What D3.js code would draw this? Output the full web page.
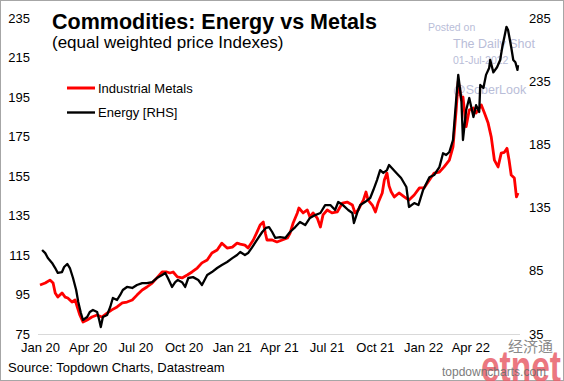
<!DOCTYPE html>
<html>
<head>
<meta charset="utf-8">
<script src="https://cdn.jsdelivr.net/npm/d3@7"></script>
<style>
  html, body { margin: 0; padding: 0; background: #fff; }
  svg { display: block; font-family: "Liberation Sans", Arial, sans-serif; }
</style>
</head>
<body>
<svg id="chart" width="564" height="381"></svg>
<script>
// ---- Data ----
const metalsDates = ["2020-01-01","2020-01-11","2020-01-20","2020-01-26","2020-01-30","2020-02-04","2020-02-12","2020-02-18","2020-02-23","2020-03-02","2020-03-08","2020-03-12","2020-03-17","2020-03-23","2020-03-31","2020-04-09","2020-04-19","2020-04-28","2020-05-08","2020-05-17","2020-05-27","2020-06-06","2020-06-15","2020-06-25","2020-07-04","2020-07-14","2020-07-23","2020-08-02","2020-08-11","2020-08-21","2020-08-30","2020-09-05","2020-09-11","2020-09-19","2020-09-28","2020-10-08","2020-10-17","2020-10-27","2020-11-05","2020-11-15","2020-11-24","2020-12-04","2020-12-13","2020-12-23","2021-01-02","2021-01-11","2021-01-17","2021-01-26","2021-02-01","2021-02-11","2021-02-18","2021-02-24","2021-03-02","2021-03-06","2021-03-09","2021-03-19","2021-03-28","2021-04-07","2021-04-17","2021-04-22","2021-04-28","2021-05-06","2021-05-09","2021-05-17","2021-05-25","2021-05-30","2021-06-05","2021-06-13","2021-06-19","2021-06-24","2021-07-02","2021-07-11","2021-07-21","2021-07-31","2021-08-09","2021-08-19","2021-08-24","2021-08-30","2021-09-09","2021-09-14","2021-09-18","2021-09-26","2021-10-02","2021-10-07","2021-10-15","2021-10-19","2021-10-24","2021-10-28","2021-11-01","2021-11-07","2021-11-16","2021-11-26","2021-12-05","2021-12-15","2021-12-25","2022-01-03","2022-01-13","2022-01-22","2022-02-01","2022-02-10","2022-02-20","2022-02-27","2022-03-05","2022-03-09","2022-03-15","2022-03-18","2022-03-24","2022-03-30","2022-04-07","2022-04-12","2022-04-22","2022-04-28","2022-05-05","2022-05-11","2022-05-17","2022-05-24","2022-05-30","2022-06-05","2022-06-10","2022-06-14","2022-06-18","2022-06-24","2022-06-28","2022-07-01"];
const metalsValues = [99.8,100.8,102.3,100.8,95.8,93.7,95.8,93.7,93.2,91.2,92.2,88.7,84.6,81.1,82.1,83.6,84.6,83.6,85.6,87.2,88.7,90.7,91.2,92.2,94.7,97.3,98.8,100.8,103.4,106.4,106.4,105.9,106.4,103.9,103.4,104.9,106.4,108.4,111,112.5,116,117.5,121,118.5,119,121,120.5,120,118.5,122.6,126.6,130.2,131.7,126,122.6,122.6,121.6,122.6,123.6,126,131.2,136.3,138.8,136.3,137.8,134.2,136.3,133.7,129.2,135.3,137.8,136.3,136.8,141.3,141.8,140.3,136.3,137.8,142.8,146.9,142.8,140.3,136.8,141.3,146.4,153,156.5,150,147,144.4,146.4,144.4,142.8,145.4,149,149,153,156.5,157,159.6,163,169.7,188.4,203,193.5,195,180,188.4,189.4,186.9,191,186.9,181.8,174.7,163,159.6,166.6,167,169,163,155.5,154,144.4,146.4];

const energyDates = ["2020-01-05","2020-01-11","2020-01-16","2020-01-24","2020-01-30","2020-02-04","2020-02-12","2020-02-16","2020-02-22","2020-02-27","2020-03-04","2020-03-10","2020-03-14","2020-03-19","2020-03-23","2020-03-31","2020-04-05","2020-04-11","2020-04-19","2020-04-23","2020-04-26","2020-04-30","2020-05-08","2020-05-14","2020-05-19","2020-05-27","2020-06-02","2020-06-07","2020-06-15","2020-06-25","2020-07-04","2020-07-14","2020-07-23","2020-08-02","2020-08-11","2020-08-21","2020-08-27","2020-09-01","2020-09-09","2020-09-15","2020-09-20","2020-09-28","2020-10-04","2020-10-10","2020-10-19","2020-10-29","2020-11-05","2020-11-15","2020-11-24","2020-12-04","2020-12-13","2020-12-23","2021-01-02","2021-01-11","2021-01-17","2021-01-26","2021-02-01","2021-02-09","2021-02-18","2021-02-28","2021-03-07","2021-03-13","2021-03-19","2021-03-25","2021-04-03","2021-04-13","2021-04-22","2021-05-02","2021-05-11","2021-05-21","2021-05-30","2021-06-09","2021-06-19","2021-06-28","2021-07-08","2021-07-17","2021-07-23","2021-08-01","2021-08-11","2021-08-19","2021-08-22","2021-08-28","2021-09-03","2021-09-12","2021-09-22","2021-09-28","2021-10-05","2021-10-11","2021-10-17","2021-10-24","2021-10-28","2021-11-11","2021-11-20","2021-11-30","2021-12-05","2021-12-15","2021-12-23","2022-01-01","2022-01-13","2022-01-22","2022-02-01","2022-02-08","2022-02-14","2022-02-20","2022-02-27","2022-03-05","2022-03-09","2022-03-15","2022-03-18","2022-03-24","2022-03-30","2022-04-07","2022-04-12","2022-04-18","2022-04-20","2022-04-26","2022-05-01","2022-05-07","2022-05-09","2022-05-15","2022-05-22","2022-05-28","2022-06-01","2022-06-05","2022-06-09","2022-06-12","2022-06-18","2022-06-22","2022-06-26","2022-06-30","2022-07-01"];
const energyValues = [101.5,99,95.1,91.2,87.2,83.3,84,88,90.4,87.2,79.3,69.8,60.3,51.6,46.1,48.4,52.4,54,52.4,46.1,40.5,48.4,50,56.4,63.5,61.9,65.9,69.8,72.2,71.4,73.8,75.3,75.3,76.1,79.3,81.7,83.3,79.3,72.2,76.1,77.7,76,72.2,79.3,80,77.7,73.8,81.7,84,87.2,89.6,92,95,97.5,99.9,97.5,99,103.8,109.4,115.7,118.9,119.6,115.7,111,111.7,111,115.7,119.6,123.6,121.2,126.8,129.1,130.7,137,137,133.1,139.4,137,133.1,130.7,122.8,130.7,137,139.4,142.6,148.9,156.8,164.7,162.4,164.7,168.7,162.4,158.4,151.3,135.5,138.6,137,149,159,160.8,167,178,176.6,179,188.5,220,240,220,188.5,212,221.7,206.7,216,210.6,232,229.6,240,245.5,251.8,242,246,251.8,262,270,278,275.5,262,251.8,250,244,247.8];

const xTickDates = ["2020-01-01","2020-04-01","2020-07-01","2020-10-01","2021-01-01","2021-04-01","2021-07-01","2021-10-01","2022-01-01","2022-04-01"];
const leftTicks = [75,95,115,135,155,175,195,215,235];
const rightTicks = [35,85,135,185,235,285];
const seriesNames = ["Industrial Metals","Energy [RHS]"];
const seriesColors = ["#ff0000","#000000"];

// ---- Drawing ----
const parse = d3.utcParse("%Y-%m-%d");
const svg = d3.select("#chart");
const font = "'Liberation Sans', Arial, sans-serif";

const x = d3.scaleUtc().domain([parse("2020-01-01"), parse("2022-07-01")]).range([40, 518]);
const yL = d3.scaleLinear().domain([75, 235]).range([334, 18]);
const yR = d3.scaleLinear().domain([35, 285]).range([334, 18]);

// frame
svg.append("rect").attr("x",0.5).attr("y",0.5).attr("width",563).attr("height",380)
  .attr("fill","#fff").attr("stroke","#a6a6a6").attr("stroke-width",1);

// baseline
svg.append("line").attr("x1",38).attr("x2",520).attr("y1",334.5).attr("y2",334.5)
  .attr("stroke","#d9d9d9").attr("stroke-width",1);

// watermark (Daily Shot)
const wm = svg.append("g").attr("fill","#b9bdd8").attr("font-family",font);
wm.append("text").attr("x",428).attr("y",31).attr("font-size",10.5).text("Posted on");
wm.append("text").attr("x",453).attr("y",48).attr("font-size",12.5).text("The Daily Shot");
wm.append("text").attr("x",453).attr("y",64).attr("font-size",10.5).text("01-Jul-2022");
wm.append("text").attr("x",453).attr("y",94).attr("font-size",12.5).text("@SoberLook");

// axes
const xAxis = d3.axisBottom(x).tickValues(xTickDates.map(parse))
  .tickFormat(d3.utcFormat("%b %y")).tickSize(0).tickPadding(9);
const gx = svg.append("g").attr("transform","translate(0,334)").call(xAxis);
gx.select(".domain").remove();
gx.selectAll("text").attr("font-size",13).attr("font-family",font).attr("fill","#000");

const gl = svg.append("g").attr("transform","translate(34,0)")
  .call(d3.axisLeft(yL).tickValues(leftTicks).tickSize(0).tickPadding(4));
gl.select(".domain").remove();
gl.selectAll("text").attr("font-size",13).attr("font-family",font).attr("fill","#000");

const gr = svg.append("g").attr("transform","translate(525,0)")
  .call(d3.axisRight(yR).tickValues(rightTicks).tickSize(0).tickPadding(4));
gr.select(".domain").remove();
gr.selectAll("text").attr("font-size",13).attr("font-family",font).attr("fill","#000");

// lines
const metals = metalsDates.map((d,i)=>({date:parse(d), v:metalsValues[i]}));
const energy = energyDates.map((d,i)=>({date:parse(d), v:energyValues[i]}));

svg.append("path").datum(metals)
  .attr("d", d3.line().x(d=>x(d.date)).y(d=>yL(d.v)))
  .attr("fill","none").attr("stroke",seriesColors[0]).attr("stroke-width",2.8)
  .attr("stroke-linejoin","round");
svg.append("path").datum(energy)
  .attr("d", d3.line().x(d=>x(d.date)).y(d=>yR(d.v)))
  .attr("fill","none").attr("stroke",seriesColors[1]).attr("stroke-width",2.3)
  .attr("stroke-linejoin","round");

// title
svg.append("text").attr("x",52).attr("y",29).attr("font-family",font)
  .attr("font-size",21.5).attr("font-weight","bold").text("Commodities: Energy vs Metals");
svg.append("text").attr("x",52).attr("y",48).attr("font-family",font)
  .attr("font-size",17).text("(equal weighted price Indexes)");

// legend
seriesNames.forEach((n,i)=>{
  const ly = 88 + i*24.5;
  svg.append("line").attr("x1",67).attr("x2",95).attr("y1",ly).attr("y2",ly)
    .attr("stroke",seriesColors[i]).attr("stroke-width", i===0 ? 3 : 2.4);
  svg.append("text").attr("x",98).attr("y",ly+4.5).attr("font-family",font)
    .attr("font-size",13).text(n);
});

// source
svg.append("text").attr("x",8).attr("y",372).attr("font-family",font)
  .attr("font-size",13).text("Source: Topdown Charts, Datastream");

// etnet logo watermark
svg.append("text").attr("x",508).attr("y",352).attr("font-family","'Noto Sans CJK SC', sans-serif")
  .attr("font-size",15).attr("fill","#8a8a8a").text("经济通");
svg.append("text").attr("x",481).attr("y",382).attr("font-family",font)
  .attr("font-size",44).attr("font-weight","bold").attr("fill","#e8606a").attr("opacity",0.85)
  .attr("textLength",80).attr("lengthAdjust","spacingAndGlyphs").text("etnet");
svg.append("text").attr("x",442).attr("y",376).attr("font-family",font)
  .attr("font-size",12).attr("fill","#6e6e6e").attr("opacity",0.9).text("topdowncharts.com");
</script>
</body>
</html>
